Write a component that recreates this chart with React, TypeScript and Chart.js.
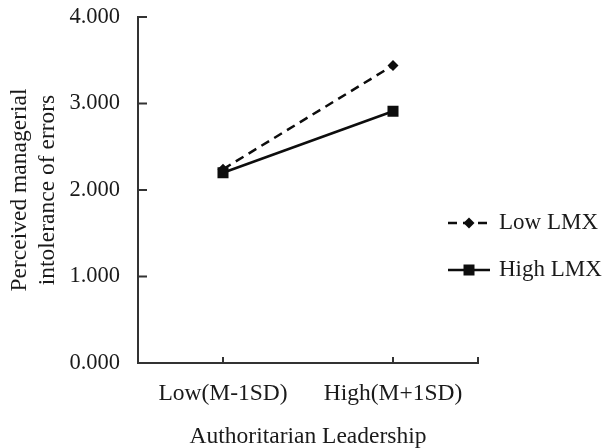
import React, { useEffect, useRef } from 'react';
import { Chart, registerables } from 'chart.js';
Chart.register(...registerables);

const categories = ['Low(M-1SD)', 'High(M+1SD)'];
const lowLMX = [2.24, 3.44];
const highLMX = [2.2, 2.91];
const seriesNames = ['Low LMX', 'High LMX'];
const yMin = 0;
const yMax = 4;
const yStep = 1;
const yTitle = ['Perceived managerial', 'intolerance of errors'];
const xTitle = 'Authoritarian Leadership';

const FONT = "'Liberation Serif', 'Times New Roman', serif";
const TEXT = '#1a1a1a';
const AXIS = '#333333';
const LINE = '#0d0d0d';

const axisTicksPlugin = {
  id: 'axisTicks',
  afterDraw(chart: any) {
    const ctx = chart.ctx;
    const ca = chart.chartArea;
    const x = chart.scales.x;
    const y = chart.scales.y;
    ctx.save();
    ctx.strokeStyle = AXIS;
    ctx.lineWidth = 2;
    ctx.beginPath();
    y.ticks.forEach((t: any) => {
      const py = y.getPixelForValue(t.value);
      ctx.moveTo(ca.left, py);
      ctx.lineTo(ca.left + 9, py);
    });
    categories.forEach((_, i) => {
      const px = x.getPixelForValue(i);
      ctx.moveTo(px, ca.bottom);
      ctx.lineTo(px, ca.bottom - 6);
    });
    ctx.moveTo(ca.right, ca.bottom);
    ctx.lineTo(ca.right, ca.bottom - 6);
    ctx.stroke();
    ctx.restore();
  },
};

const legendPlugin = {
  id: 'customLegend',
  afterDraw(chart: any) {
    const ctx = chart.ctx;
    const rows = [223, 270];
    chart.data.datasets.forEach((ds: any, i: number) => {
      const yy = rows[i];
      ctx.save();
      ctx.strokeStyle = LINE;
      ctx.lineWidth = 2.5;
      ctx.setLineDash(ds.borderDash || []);
      ctx.beginPath();
      ctx.moveTo(448, yy);
      ctx.lineTo(490, yy);
      ctx.stroke();
      ctx.setLineDash([]);
      ctx.fillStyle = LINE;
      ctx.beginPath();
      if (ds.pointStyle === 'rectRot') {
        const r = 5.5;
        ctx.moveTo(469, yy - r);
        ctx.lineTo(469 + r, yy);
        ctx.lineTo(469, yy + r);
        ctx.lineTo(469 - r, yy);
        ctx.closePath();
      } else {
        ctx.rect(469 - 5.5, yy - 5.5, 11, 11);
      }
      ctx.fill();
      ctx.fillStyle = TEXT;
      ctx.font = `23px ${FONT}`;
      ctx.textAlign = 'left';
      ctx.textBaseline = 'middle';
      ctx.fillText(ds.label, 499, yy);
      ctx.restore();
    });
  },
};

export default function App() {
  const ref = useRef<HTMLCanvasElement | null>(null);
  useEffect(() => {
    if (!ref.current) return;
    const chart = new Chart(ref.current, {
      type: 'line',
      data: {
        labels: categories,
        datasets: [
          {
            label: seriesNames[0],
            data: lowLMX,
            borderColor: LINE,
            backgroundColor: LINE,
            borderWidth: 2.5,
            borderDash: [9, 6],
            pointStyle: 'rectRot',
            pointRadius: 5.5,
            pointBorderWidth: 0,
            pointBackgroundColor: LINE,
            tension: 0,
          },
          {
            label: seriesNames[1],
            data: highLMX,
            borderColor: LINE,
            backgroundColor: LINE,
            borderWidth: 2.5,
            pointStyle: 'rect',
            pointRadius: 7.8,
            pointBorderWidth: 0,
            pointBackgroundColor: LINE,
            tension: 0,
          },
        ],
      },
      options: {
        responsive: false,
        animation: false,
        devicePixelRatio: 1,
        layout: { padding: { top: 17, right: 125, bottom: 0, left: 0 } },
        plugins: {
          legend: { display: false },
          tooltip: { enabled: false },
        },
        scales: {
          x: {
            type: 'category',
            offset: true,
            grid: { display: false, drawTicks: false },
            border: { display: true, color: AXIS, width: 2 },
            ticks: {
              color: TEXT,
              font: { family: FONT, size: 23.5 },
              padding: 17,
              maxRotation: 0,
            },
            title: {
              display: true,
              text: xTitle,
              color: TEXT,
              font: { family: FONT, size: 23.5 },
              padding: { top: 0, bottom: -3 },
            },
            afterFit: (s: any) => {
              s.height = 85;
              s.paddingLeft = 0;
              s.paddingRight = 0;
            },
          },
          y: {
            min: yMin,
            max: yMax,
            grid: { display: false, drawTicks: false },
            border: { display: true, color: AXIS, width: 2 },
            ticks: {
              stepSize: yStep,
              color: TEXT,
              font: { family: FONT, size: 22.5 },
              padding: 18,
              callback: (v: any) => Number(v).toFixed(3),
            },
            title: {
              display: true,
              text: yTitle,
              color: TEXT,
              font: { family: FONT, size: 23.5 },
              padding: { top: 6, bottom: 0 },
            },
            afterFit: (s: any) => {
              s.width = 138;
              s.paddingTop = 0;
              s.paddingBottom = 0;
            },
          },
        },
      },
      plugins: [axisTicksPlugin, legendPlugin],
    } as any);
    return () => chart.destroy();
  }, []);
  return (
    <div style={{ position: 'fixed', left: 0, top: 0, width: 603, height: 448, background: '#fff' }}>
      <canvas ref={ref} width={603} height={448} style={{ display: 'block' }} />
    </div>
  );
}
